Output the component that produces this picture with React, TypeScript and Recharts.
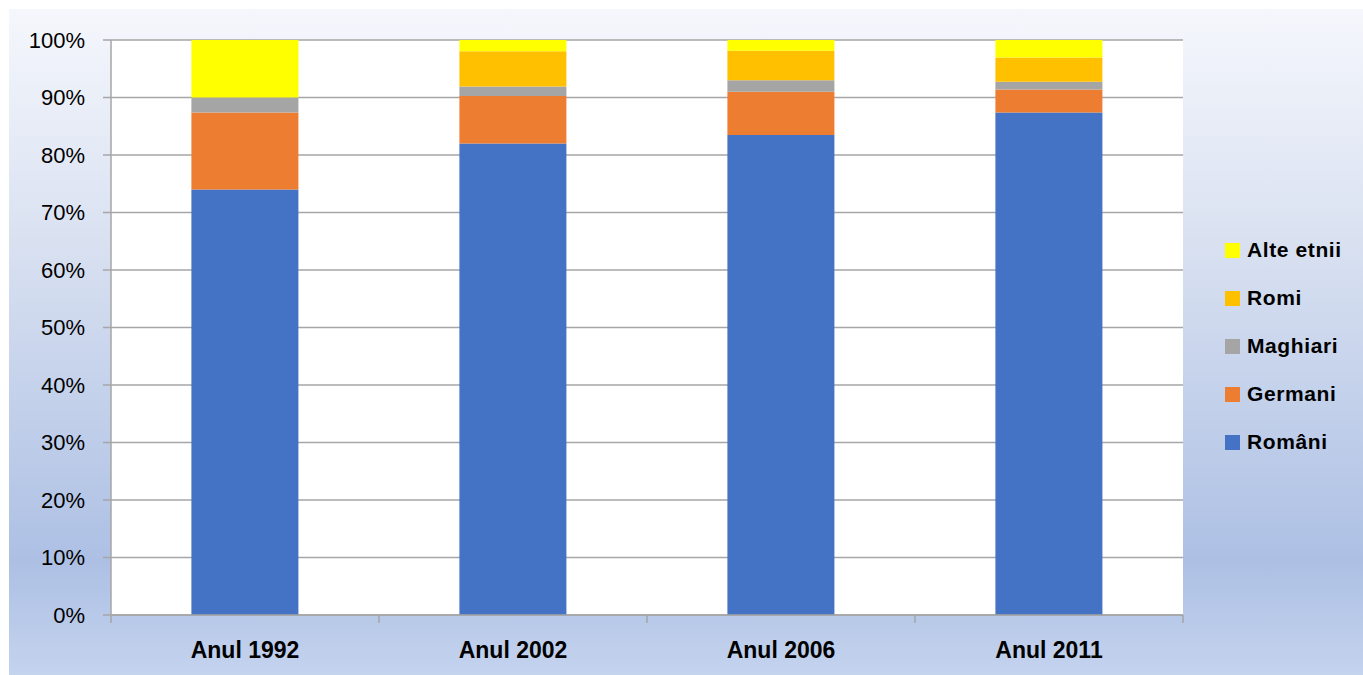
import React from "react";
import {
  BarChart,
  Bar,
  XAxis,
  YAxis,
  CartesianGrid,
  Legend,
} from "recharts";

const categories = ["Anul 1992", "Anul 2002", "Anul 2006", "Anul 2011"];
const romani = [74.0, 82.0, 83.5, 87.4];
const germani = [13.4, 8.25, 7.5, 4.0];
const maghiari = [2.6, 1.65, 2.0, 1.35];
const romi = [0, 6.15, 5.15, 4.2];
const alteEtnii = [10.0, 1.95, 1.85, 3.05];
const yTicks = [0, 10, 20, 30, 40, 50, 60, 70, 80, 90, 100];

const seriesDefs = [
  { key: "romani", name: "Români", color: "#4472C4", values: romani },
  { key: "germani", name: "Germani", color: "#ED7D31", values: germani },
  { key: "maghiari", name: "Maghiari", color: "#A5A5A5", values: maghiari },
  { key: "romi", name: "Romi", color: "#FFC000", values: romi },
  { key: "alte", name: "Alte etnii", color: "#FFFF00", values: alteEtnii },
];

const data = categories.map((c, i) => {
  const row: Record<string, string | number> = { name: c };
  seriesDefs.forEach((s) => {
    row[s.key] = s.values[i];
  });
  return row;
});

const FONT = "'Liberation Sans', Arial, sans-serif";

const XTick = (props: any) => {
  const { x, y, payload, index, visibleTicksCount } = props;
  const off = payload.offset || 0;
  const isLast = index === visibleTicksCount - 1;
  return (
    <g>
      <line x1={x - off} x2={x - off} y1={y} y2={y + 8} stroke="#a6a6a6" strokeWidth={1.5} />
      {isLast && (
        <line x1={x + off} x2={x + off} y1={y} y2={y + 8} stroke="#a6a6a6" strokeWidth={1.5} />
      )}
      <text
        x={x}
        y={y + 43}
        textAnchor="middle"
        fontFamily={FONT}
        fontWeight="bold"
        fontSize={23}
        fill="#000"
      >
        {payload.value}
      </text>
    </g>
  );
};

const LegendContent = () => {
  const items = [...seriesDefs].reverse();
  return (
    <div
      style={{
        fontFamily: FONT,
        fontWeight: "bold",
        fontSize: 21,
        letterSpacing: 0.6,
        color: "#000",
      }}
    >
      {items.map((s) => (
        <div
          key={s.key}
          style={{ display: "flex", alignItems: "center", height: 48 }}
        >
          <span
            style={{
              display: "inline-block",
              width: 15,
              height: 15,
              background: s.color,
              marginRight: 7,
            }}
          />
          <span>{s.name}</span>
        </div>
      ))}
    </div>
  );
};

export default function App() {
  return (
    <div
      style={{
        position: "absolute",
        left: 0,
        top: 0,
        width: 1363,
        height: 675,
        background: "#fff",
        overflow: "hidden",
      }}
    >
      <div
        style={{
          position: "absolute",
          left: 9,
          top: 9,
          width: 1354,
          height: 666,
          background:
            "linear-gradient(to bottom, #f5f7fc 0%, #d9e1f1 35%, #adc0e4 83%, #c4d3ee 100%)",
        }}
      >
        <BarChart
          width={1354}
          height={666}
          data={data}
          margin={{ top: 31, right: 180, bottom: 15, left: 32 }}
          barCategoryGap="30%"
        >
          <CartesianGrid
            vertical={false}
            stroke="#a6a6a6"
            strokeWidth={1.5}
            fill="#ffffff"
          />
          <XAxis
            dataKey="name"
            height={45}
            tickSize={0}
            tickMargin={0}
            tick={<XTick />}
            axisLine={{ stroke: "#a6a6a6", strokeWidth: 1.5 }}
            tickLine={false}
            interval={0}
          />
          <YAxis
            width={70}
            domain={[0, 100]}
            ticks={yTicks}
            tickFormatter={(v: number) => `${v}%`}
            tickSize={8}
            tickMargin={18}
            axisLine={{ stroke: "#a6a6a6", strokeWidth: 1.5 }}
            tickLine={{ stroke: "#a6a6a6", strokeWidth: 1.5 }}
            tick={{ fill: "#000", fontSize: 22, fontFamily: FONT }}
            allowDataOverflow
          />
          <Legend
            layout="vertical"
            align="center"
            verticalAlign="middle"
            content={<LegendContent />}
            wrapperStyle={{ left: 1216, top: 217, width: 140 }}
          />
          {seriesDefs.map((s) => (
            <Bar
              key={s.key}
              dataKey={s.key}
              name={s.name}
              stackId="a"
              fill={s.color}
              isAnimationActive={false}
            />
          ))}
        </BarChart>
      </div>
    </div>
  );
}
